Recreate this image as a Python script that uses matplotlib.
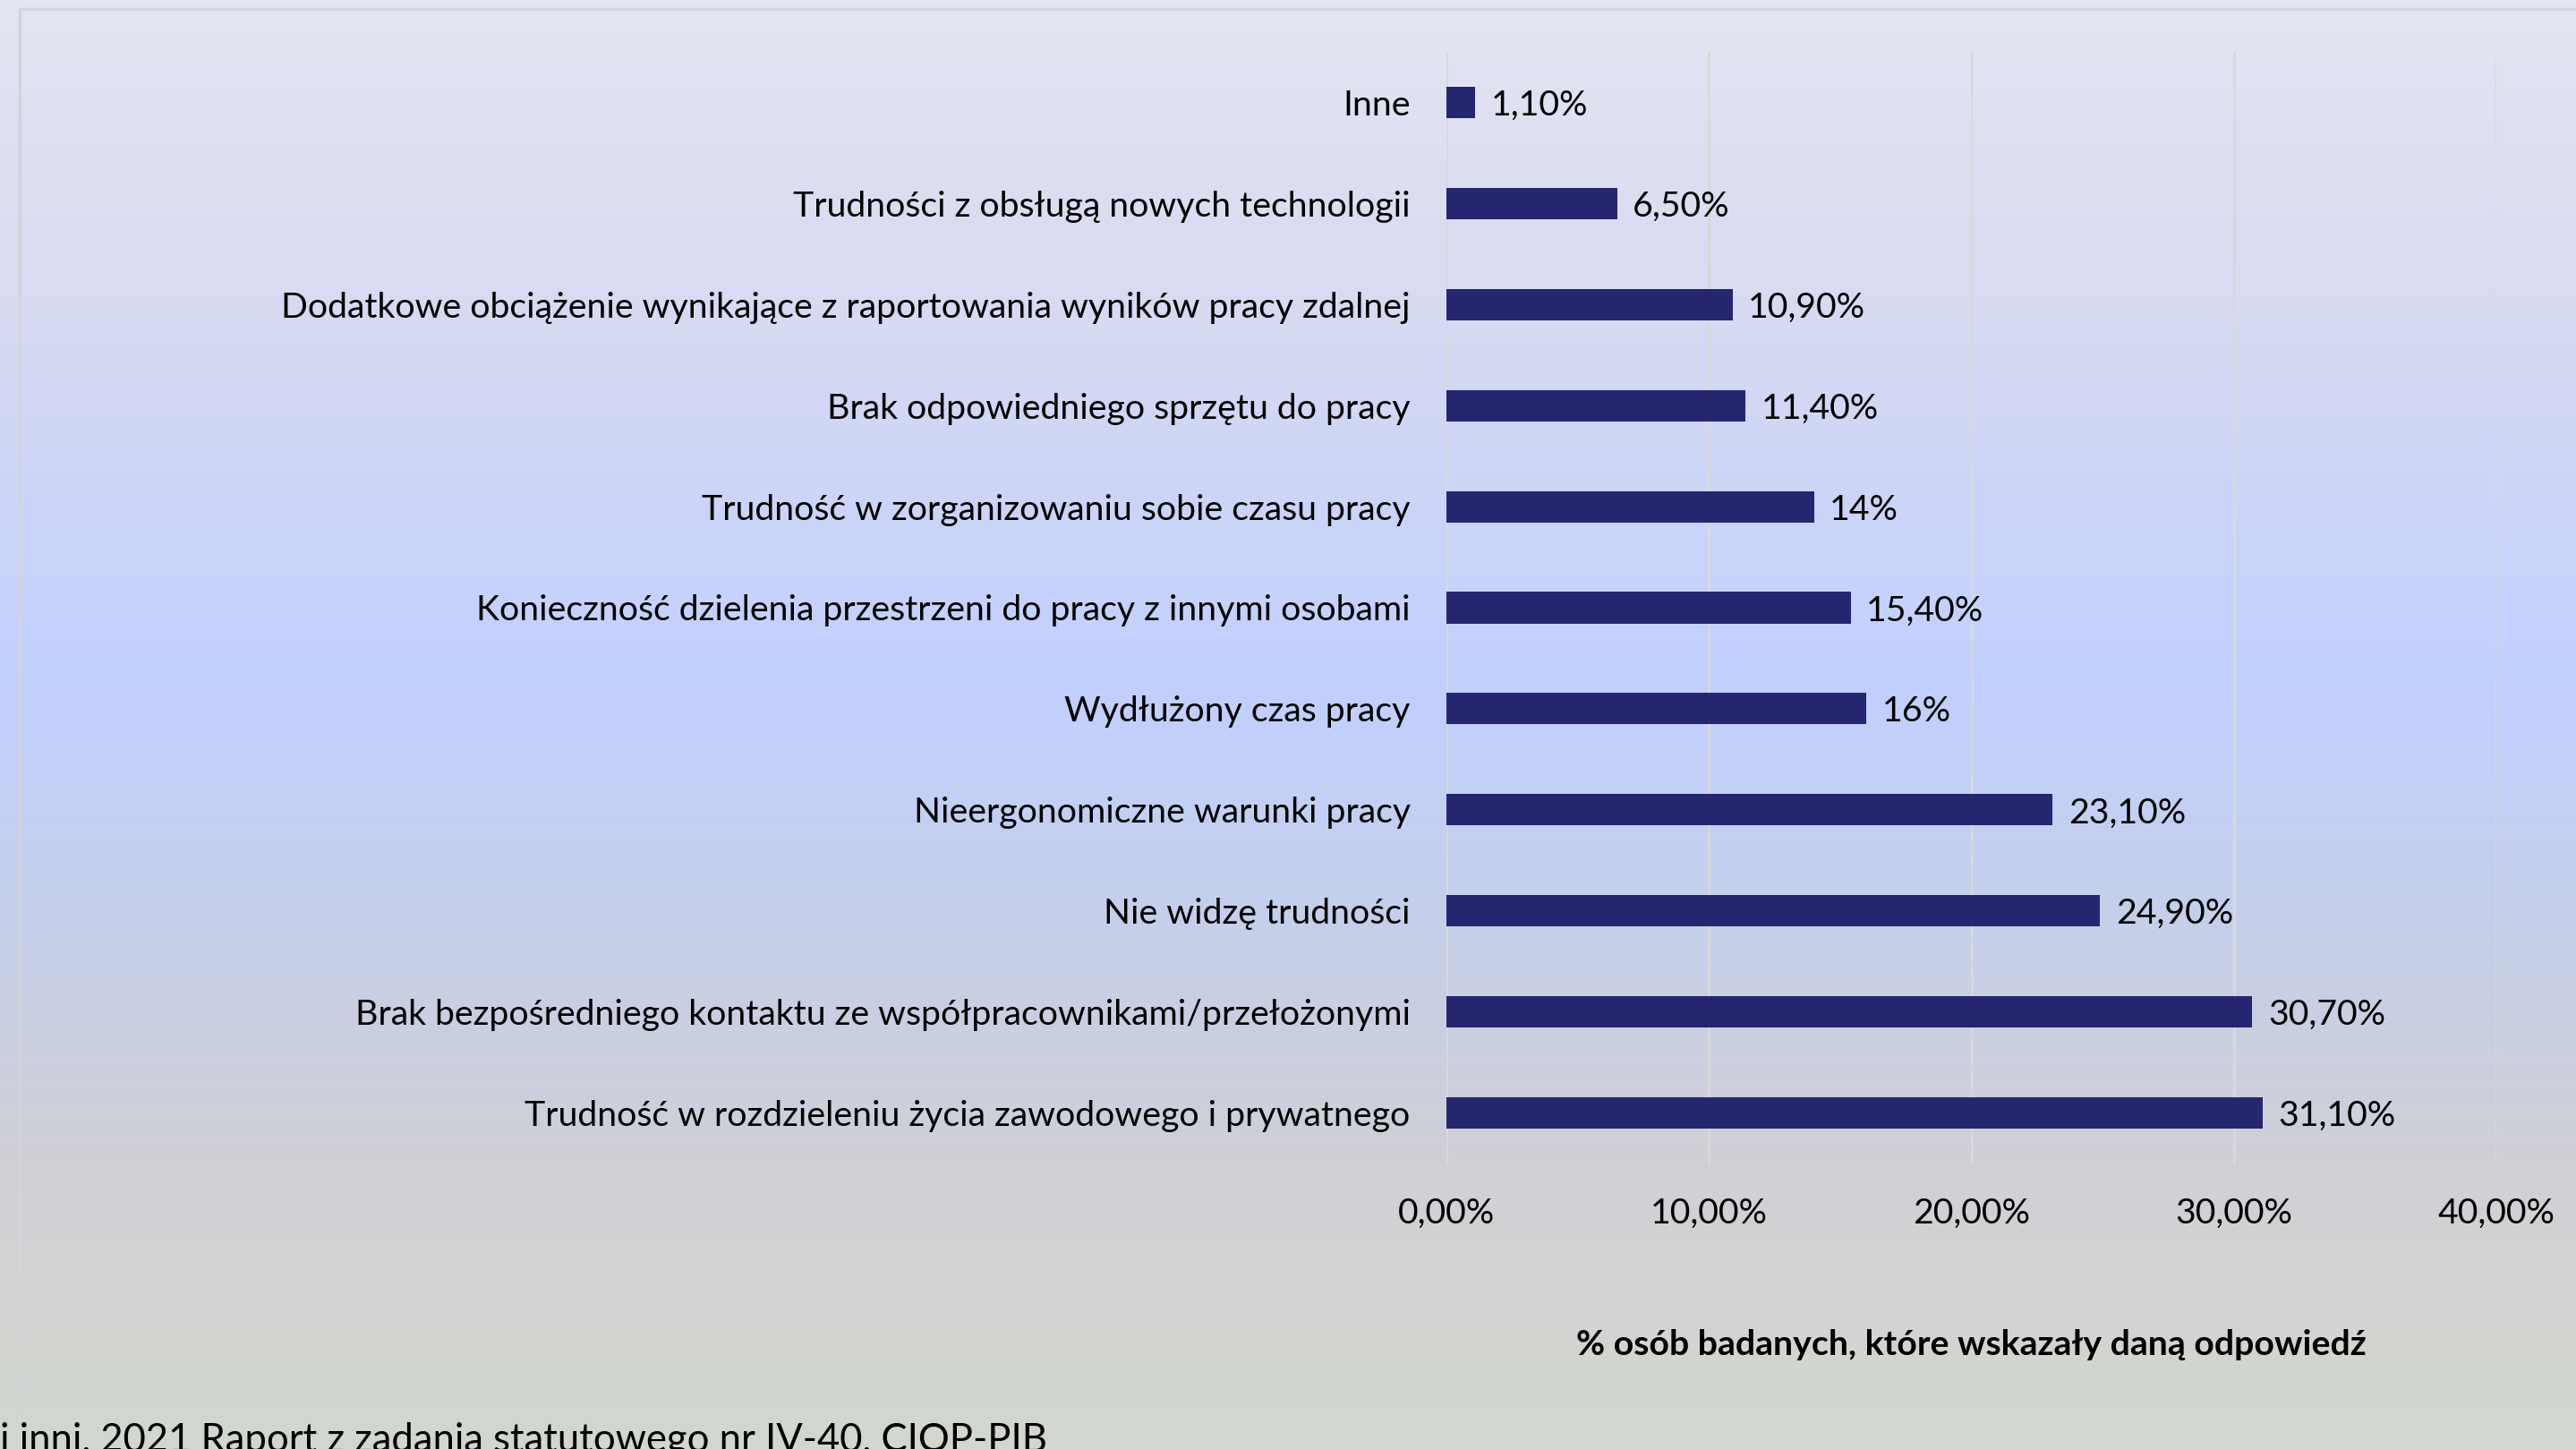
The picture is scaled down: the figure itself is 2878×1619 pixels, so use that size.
import numpy as np
import matplotlib.pyplot as plt
from matplotlib.colors import LinearSegmentedColormap

plt.rcParams['font.family'] = ['Lato', 'DejaVu Sans']

kategorie = [
    "Inne",
    "Trudności z obsługą nowych technologii",
    "Dodatkowe obciążenie wynikające z raportowania wyników pracy zdalnej",
    "Brak odpowiedniego sprzętu do pracy",
    "Trudność w zorganizowaniu sobie czasu pracy",
    "Konieczność dzielenia przestrzeni do pracy z innymi osobami",
    "Wydłużony czas pracy",
    "Nieergonomiczne warunki pracy",
    "Nie widzę trudności",
    "Brak bezpośredniego kontaktu ze współpracownikami/przełożonymi",
    "Trudność w rozdzieleniu życia zawodowego i prywatnego",
]
wartosci = [1.1, 6.5, 10.9, 11.4, 14.0, 15.4, 16.0, 23.1, 24.9, 30.7, 31.1]
etykiety = ["1,10%", "6,50%", "10,90%", "11,40%", "14%", "15,40%", "16%",
            "23,10%", "24,90%", "30,70%", "31,10%"]
ticki = [0, 10, 20, 30, 40]
ticki_opis = ["0,00%", "10,00%", "20,00%", "30,00%", "40,00%"]

W, H = 2878, 1619
FS = 28.3
fig = plt.figure(figsize=(W / 100, H / 100), dpi=100)

# tlo - gradient pionowy
bg = fig.add_axes([0, 0, 1, 1])
stops = [(0.0, "#e3e5f1"), (0.2, "#d8dbf1"), (0.47, "#c2d0fe"),
         (0.62, "#c5cfec"), (0.8, "#cfd0d6"), (0.88, "#d3d3d3"), (1.0, "#d1d7ce")]
cmap = LinearSegmentedColormap.from_list("tlo", stops)
grad = np.linspace(0, 1, 512).reshape(-1, 1)
bg.imshow(grad, aspect="auto", cmap=cmap, extent=[0, 1, 0, 1], origin="upper")
bg.set_xlim(0, 1)
bg.set_ylim(0, 1)
bg.axis("off")

# ramka obszaru wykresu
bg.plot([22 / W, 22 / W, 1.01], [-0.01, 1 - 10 / H, 1 - 10 / H],
        color="#d3d3da", lw=2.5, solid_capstyle="butt")

x0, x1 = 1616 / W, 2789 / W
y0, y1 = 1 - 1300 / H, 1 - 58 / H
ax = fig.add_axes([x0, y0, x1 - x0, y1 - y0])
ax.patch.set_alpha(0)

y = np.arange(len(kategorie))[::-1]
ax.barh(y, wartosci, height=0.31, color="#262670", zorder=3)
for yi, v, lab in zip(y, wartosci, etykiety):
    ax.text(v + 0.6, yi, lab, va="center_baseline", ha="left", fontsize=FS, color="black")

ax.set_xlim(0, 40)
ax.set_ylim(-0.5, len(kategorie) - 0.5)
ax.set_xticks(ticks=ticki, labels=ticki_opis, fontsize=FS)
ax.set_yticks(ticks=y, labels=kategorie, fontsize=FS)
ax.tick_params(axis="both", length=0)
ax.tick_params(axis="y", pad=29)
ax.tick_params(axis="x", pad=27)
ax.grid(axis="x", color="#d9d9d9", lw=2, zorder=0)
for s in ax.spines.values():
    s.set_visible(False)

ax.set_xlabel("% osób badanych, które wskazały daną odpowiedź",
              fontsize=FS, fontweight="bold", labelpad=80)

fig.text(0.0, 1 - 1622 / H, "i inni, 2021 Raport z zadania statutowego nr IV-40, CIOP-PIB",
         ha="left", va="baseline", fontsize=31.4)

fig.savefig("out.png", dpi=100)
